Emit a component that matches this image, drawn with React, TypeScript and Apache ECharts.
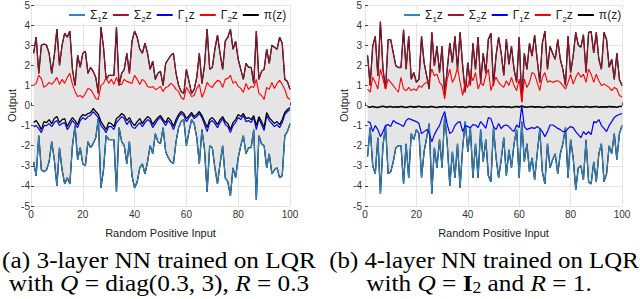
import React, { useEffect, useRef } from "react";
import * as echarts from "echarts";

// ---------- data ----------
const X_IDX = Array.from({ length: 100 }, (_, i) => i + 1);

// (a) 3-layer NN, Q = diag(0.3,3), R = 0.3
const S2A = [2.6,3.4,1.6,3.0,3.05,3.0,2.6,1.6,2.5,3.8, 2.0,3.0,3.6,3.4,3.7,1.8,1.0,2.5,1.9,2.6, 2.7,1.6,1.9,1.7,1.4,0.6,3.9,2.9,1.3,1.5, 1.5,1.5,3.9,1.0,1.6,1.8,2.6,1.6,3.2,3.7, 3.4,2.8,2.6,3.1,2.6,1.8,2.2,1.3,1.6,1.7, 1.0,2.1,2.3,2.5,2.6,1.6,1.0,0.7,0.6,1.8, 1.2,0.6,0.8,1.4,2.6,1.1,2.0,3.8,1.8,1.9, 2.8,3.5,2.6,1.8,3.2,3.4,3.8,2.8,3.2,2.3, 1.8,1.3,2.1,1.9,1.9,1.1,3.7,1.3,1.7,1.8, 2.8,2.1,3.0,2.9,2.8,3.4,3.1,1.3,1.2,0.8];
const S1A = [-2.8,-3.5,-1.5,-3.2,-3.3,-3.2,-2.8,-1.8,-2.7,-4.0, -2.1,-3.2,-3.9,-3.6,-3.9,-2.0,-1.0,-2.7,-2.1,-2.9, -3.0,-1.8,-2.1,-1.9,-1.6,-0.65,-4.1,-3.2,-1.5,-1.7, -1.7,-1.7,-4.3,-1.1,-1.8,-2.0,-2.9,-1.8,-3.5,-4.1, -3.8,-3.1,-2.9,-3.4,-2.8,-2.0,-2.4,-1.4,-1.8,-1.9, -1.1,-2.3,-2.6,-2.8,-2.9,-1.8,-1.1,-0.8,-0.7,-2.0, -1.3,-0.7,-0.9,-1.6,-2.9,-1.2,-2.2,-4.3,-2.0,-2.1, -3.1,-3.9,-2.9,-2.0,-3.6,-3.8,-4.5,-3.1,-3.6,-2.6, -2.0,-1.5,-2.4,-2.1,-2.1,-1.2,-4.7,-1.5,-1.9,-2.0, -3.1,-2.4,-3.4,-3.2,-3.1,-3.6,-3.5,-1.5,-1.3,-0.9];
const G2A = [1.0,1.1,1.5,1.35,0.9,1.0,1.15,1.05,1.2,1.4, 1.05,1.3,1.1,1.4,1.6,1.05,0.7,0.45,0.5,0.4, 0.6,0.85,0.8,0.6,0.35,0.3,1.0,1.1,1.4,1.1, 1.3,1.05,1.4,1.05,1.05,1.3,1.2,1.15,1.1,1.5, 1.3,1.05,1.3,1.2,0.95,0.9,0.95,0.8,0.85,0.95, 0.7,0.9,0.95,1.1,1.0,0.8,0.7,0.4,0.3,0.9, 0.7,0.45,0.5,0.85,1.05,0.4,0.7,1.15,0.97,0.9, 1.1,1.25,1.2,0.9,1.3,1.35,1.5,1.1,1.2,0.95, 0.85,0.65,1.1,0.8,0.95,0.9,1.3,0.6,0.5,0.3, 0.9,0.8,1.15,0.85,1.1,1.25,1.05,0.8,0.4,0.3];
const G1A = [-1.05,-1.0,-1.15,-1.35,-1.0,-1.0,-0.9,-1.05,-0.85,-0.75, -1.0,-0.9,-0.85,-1.2,-1.0,-0.75,-0.9,-1.1,-0.75,-0.6, -0.7,-0.55,-0.5,-0.3,-0.45,-0.6,-1.0,-1.15,-1.35,-1.05, -1.05,-1.2,-0.85,-0.7,-0.55,-0.65,-0.95,-0.75,-1.05,-1.15, -1.0,-0.85,-1.05,-0.85,-0.7,-0.8,-1.1,-0.9,-0.7,-0.6, -0.8,-1.0,-0.75,-0.9,-1.2,-0.85,-0.55,-0.4,-0.5,-0.8, -0.6,-0.45,-0.65,-0.55,-0.4,-0.6,-0.95,-1.3,-0.85,-0.75, -0.9,-1.1,-0.85,-0.65,-0.95,-1.05,-1.35,-1.0,-0.85,-0.6, -0.7,-0.5,-0.8,-0.75,-0.85,-0.6,-1.2,-0.65,-0.95,-1.25, -0.5,-0.75,-0.9,-1.05,-0.95,-1.1,-0.85,-0.45,-0.3,-0.2];
const PA = [-0.85,-0.75,-0.95,-1.2,-0.8,-0.85,-0.7,-0.9,-0.65,-0.55, -0.85,-0.7,-0.65,-1.05,-0.8,-0.6,-0.75,-0.95,-0.6,-0.45, -0.5,-0.4,-0.35,-0.15,-0.3,-0.45,-0.8,-1.0,-1.2,-0.85, -0.9,-1.05,-0.65,-0.55,-0.4,-0.5,-0.75,-0.6,-0.85,-1.0, -0.8,-0.65,-0.9,-0.7,-0.55,-0.65,-0.95,-0.75,-0.6,-0.5, -0.7,-0.85,-0.6,-0.75,-1.05,-0.7,-0.45,-0.3,-0.4,-0.65, -0.5,-0.35,-0.55,-0.45,-0.3,-0.5,-0.8,-1.1,-0.7,-0.6, -0.75,-0.95,-0.7,-0.55,-0.8,-0.9,-1.2,-0.85,-0.7,-0.45, -0.55,-0.4,-0.65,-0.6,-0.7,-0.5,-1.0,-0.55,-0.8,-1.1, -0.35,-0.6,-0.75,-0.9,-0.8,-0.95,-0.7,-0.35,-0.2,-0.1];

// (b) 4-layer NN, Q = I2, R = 1
const S2B = [2.5,1.0,2.95,3.44,1.48,4.17,1.81,0.82,3.28,3.28, 2.62,1.97,1.89,1.89,3.77,1.81,3.44,1.31,1.64,1.15, 1.31,3.44,2.13,1.48,0.82,3.64,1.97,2.95,1.64,2.95, 0.5,1.81,3.11,2.13,3.44,1.81,3.64,1.97,0.66,2.13, 1.0,3.1,1.8,3.4,1.15,2.6,1.6,3.3,3.6,1.0, 2.5,3.4,2.6,1.5,3.3,2.05,2.95,1.8,1.15,3.4, 0.2,2.6,1.8,3.1,2.46,3.5,2.3,1.15,3.1,3.7, 1.8,2.95,2.6,2.3,3.28,2.3,1.8,1.0,3.44,1.64, 2.46,3.64,3.0,2.9,3.52,1.64,3.64,3.68,2.62,3.64, 2.3,1.8,3.64,3.28,1.9,2.3,1.3,2.6,1.3,1.0];
const S1B = [-2.55,-1.1,-3.0,-3.4,-1.6,-4.4,-2.0,-1.0,-3.4,-3.3, -2.8,-2.1,-2.0,-2.0,-3.9,-1.9,-3.6,-1.4,-1.7,-1.2, -1.4,-3.6,-2.3,-1.6,-0.9,-4.4,-2.1,-3.1,-1.7,-3.1, -0.5,-1.9,-4.0,-2.3,-3.6,-1.9,-4.1,-2.1,-0.8,-2.3, -1.1,-3.6,-1.9,-3.6,-1.2,-2.8,-1.7,-3.5,-3.8,-1.1, -2.6,-3.6,-2.7,-1.6,-3.5,-2.2,-3.1,-1.9,-1.2,-3.6, -0.8,-2.8,-1.9,-3.3,-2.6,-3.7,-2.4,-1.2,-3.3,-3.9, -1.9,-3.1,-2.7,-2.4,-3.4,-2.4,-1.9,-1.1,-3.6,-1.7, -2.6,-4.2,-3.1,-3.0,-3.7,-1.7,-3.8,-3.9,-2.8,-3.8, -2.4,-1.9,-3.8,-3.4,-2.0,-2.4,-1.4,-2.7,-1.4,-1.0];
const G2B = [0.82,0.66,1.4,1.15,0.82,1.81,1.31,0.82,1.31,1.15, 0.99,0.82,0.66,1.4,0.82,0.74,0.9,0.74,0.82,0.74, 0.99,0.9,1.07,1.15,1.3,1.81,1.48,1.56,1.15,0.99, 0.33,1.31,1.81,1.15,1.4,1.89,1.15,0.5,1.15,0.9, 1.56,1.23,1.64,0.82,1.15,0.99,1.48,1.81,0.74,1.15, 1.4,1.15,1.0,0.9,1.23,0.99,1.4,0.99,0.74,1.31, 0.17,1.31,0.9,1.15,1.64,1.56,1.15,0.74,1.4,1.64, 1.15,1.23,1.15,1.2,1.23,1.15,0.99,0.82,1.15,1.56, 1.07,1.4,1.64,1.4,1.56,1.15,1.81,1.56,1.15,1.56, 1.23,0.99,1.07,0.99,0.9,0.74,0.9,0.82,0.5,0.42];
const G1B = [-0.8,-0.85,-1.3,-1.0,-1.2,-1.55,-1.3,-1.0,-0.95,-1.05, -0.75,-0.85,-0.9,-0.97,-1.05,-0.75,-0.65,-0.7,-0.75,-0.8, -0.9,-1.4,-1.3,-1.2,-1.4,-1.8,-1.45,-1.2,-1.0,-0.6, -0.3,-0.95,-1.4,-1.3,-1.0,-0.85,-0.8,-1.3,-1.0,-1.05, -1.1,-0.95,-0.97,-1.1,-0.8,-0.95,-1.14,-0.6,-0.65,-1.05, -1.2,-0.9,-1.15,-1.0,-0.97,-1.05,-1.2,-1.3,-0.97,-1.1, 0.0,-1.05,-1.2,-1.14,-1.1,-1.14,-1.05,-1.14,-1.3,-1.55, -1.3,-0.97,-0.97,-1.05,-1.14,-1.2,-1.3,-1.3,-1.14,-1.05, -1.1,-1.3,-1.45,-1.6,-1.3,-1.45,-1.3,-1.45,-0.8,-0.85, -0.7,-1.0,-1.14,-1.3,-1.0,-0.8,-0.6,-0.5,-0.45,-0.4];
const PB = [-0.06,-0.09,-0.05,-0.08,-0.1,-0.06,-0.04,-0.08,-0.07,-0.05, -0.09,-0.06,-0.08,-0.05,-0.07,-0.1,-0.06,-0.05,-0.08,-0.07, -0.04,-0.08,-0.06,-0.09,-0.07,-0.05,-0.08,-0.1,-0.06,-0.07, -0.05,-0.08,-0.06,-0.09,-0.05,-0.07,-0.08,-0.06,-0.1,-0.07, -0.05,-0.08,-0.06,-0.07,-0.09,-0.05,-0.06,-0.08,-0.07,-0.05, -0.09,-0.06,-0.07,-0.05,-0.08,-0.06,-0.1,-0.07,-0.05,-0.08, -0.02,-0.07,-0.09,-0.06,-0.05,-0.08,-0.07,-0.06,-0.1,-0.08, -0.05,-0.07,-0.06,-0.09,-0.05,-0.08,-0.06,-0.07,-0.1,-0.06, -0.05,-0.08,-0.07,-0.06,-0.09,-0.05,-0.07,-0.08,-0.06,-0.05, -0.09,-0.07,-0.06,-0.08,-0.05,-0.07,-0.06,-0.09,-0.05,-0.04];

const X_TICKS = [0, 20, 40, 60, 80, 100];
const Y_TICKS = [-5, -4, -3, -2, -1, 0, 1, 2, 3, 4, 5];
const LEGEND_NAMES = ["Σ1z", "Σ2z", "Γ1z", "Γ2z", "π(z)"];
const X_LABEL = "Random Positive Input";
const Y_LABEL = "Output";

const SANS = "'Liberation Sans', Arial, Helvetica, sans-serif";
const SERIF = "'Liberation Serif', 'Times New Roman', serif";

const C_S1 = "#2c86c9";
const C_S2 = "#a2142f";
const C_G1 = "#0000ff";
const C_G2 = "#ff0000";
const C_PI = "#000000";
const C_FILL = "#e5e5e5";

const pairs = (ys: number[]) => ys.map((v, i) => [X_IDX[i], v]);

function panelSeries(g: number, s1: number[], s2: number[], g1: number[], g2: number[], p: number[], piWidth: number) {
  const common = { type: "line", xAxisIndex: g, yAxisIndex: g, symbol: "none", showSymbol: false, silent: true };
  return [
    { ...common, name: "_hi" + g, data: pairs(s2), lineStyle: { color: "#000", width: 1.3 }, areaStyle: { color: C_FILL, opacity: 1, origin: 0 }, z: 1 },
    { ...common, name: "_lo" + g, data: pairs(s1), lineStyle: { color: "#000", width: 1.3 }, areaStyle: { color: C_FILL, opacity: 1, origin: 0 }, z: 1 },
    { ...common, name: "Σ2z", data: pairs(s2), color: C_S2, lineStyle: { color: C_S2, width: 1 }, z: 2 },
    { ...common, name: "Σ1z", data: pairs(s1), color: C_S1, lineStyle: { color: C_S1, width: 1.1 }, z: 2 },
    { ...common, name: "Γ2z", data: pairs(g2), color: C_G2, lineStyle: { color: C_G2, width: 1.1 }, z: 3 },
    { ...common, name: "Γ1z", data: pairs(g1), color: C_G1, lineStyle: { color: C_G1, width: 1.2 }, z: 3 },
    { ...common, name: "π(z)", data: pairs(p), color: C_PI, lineStyle: { color: C_PI, width: piWidth }, z: 4 },
  ];
}

function legendFmt(name: string) {
  if (name === "Σ1z") return "{n|Σ}{s|1}{n|z}";
  if (name === "Σ2z") return "{n|Σ}{s|2}{n|z}";
  if (name === "Γ1z") return "{n|Γ}{s|1}{n|z}";
  if (name === "Γ2z") return "{n|Γ}{s|2}{n|z}";
  return "{n|π(z)}";
}

function makeLegend(left: number) {
  return {
    left, top: 9, width: 240, orient: "horizontal", padding: [0, 2], itemWidth: 16, itemHeight: 2, itemGap: 5, icon: "rect",
    backgroundColor: "#fff", selectedMode: false, data: LEGEND_NAMES, formatter: legendFmt,
    textStyle: {
      fontFamily: SANS, fontSize: 12, color: "#222",
      rich: {
        n: { fontFamily: SANS, fontSize: 12, color: "#222", lineHeight: 16 },
        s: { fontFamily: SANS, fontSize: 8, color: "#222", verticalAlign: "bottom" },
      },
    },
  };
}

function axesFor(g: number, labelMargin: number) {
  const x = {
    type: "value", gridIndex: g, min: X_TICKS[0], max: X_TICKS[X_TICKS.length - 1], interval: 20,
    name: X_LABEL, nameLocation: "middle", nameGap: 21,
    nameTextStyle: { fontFamily: SANS, fontSize: 11, color: "#222" },
    axisLine: { show: false }, axisTick: { show: true, inside: true, length: 3, lineStyle: { color: "#444" } },
    axisLabel: { fontFamily: SANS, fontSize: 10, color: "#333", margin: 3 },
    splitLine: { show: true, lineStyle: { color: "#e4e4e4", width: 1 } },
  };
  const y = {
    type: "value", gridIndex: g, min: Y_TICKS[0], max: Y_TICKS[Y_TICKS.length - 1], interval: 1,
    name: Y_LABEL, nameLocation: "middle", nameGap: 14,
    nameTextStyle: { fontFamily: SANS, fontSize: 11, color: "#222" },
    axisLine: { show: false }, axisTick: { show: true, inside: true, length: 3, lineStyle: { color: "#444" } },
    axisLabel: { fontFamily: SANS, fontSize: 10, color: "#333", margin: labelMargin },
    splitLine: { show: true, lineStyle: { color: "#e4e4e4", width: 1 } },
  };
  return { x, y };
}

const CAP_A1 = "(a) 3-layer NN trained on LQR";
const CAP_A2 = "with {i|Q} = diag(0.3, 3), {i|R} = 0.3";
const CAP_B1 = "(b) 4-layer NN trained on LQR";
const CAP_B2 = "with {i|Q} = {b|I}{s|2} and {i|R} = 1.";

function caption(text: string, x: number, y: number, sx: number) {
  return {
    type: "text", x, y, scaleX: sx, scaleY: 1, silent: true,
    style: {
      text, fill: "#000", fontFamily: SERIF, fontSize: 23, align: "center", verticalAlign: "middle",
      rich: {
        i: { fontFamily: SERIF, fontSize: 23, fontStyle: "italic", fill: "#000", lineHeight: 26 },
        b: { fontFamily: SERIF, fontSize: 23, fontWeight: "bold", fill: "#000", lineHeight: 26 },
        s: { fontFamily: SERIF, fontSize: 16, fill: "#000", verticalAlign: "bottom" },
      },
    },
  };
}

export default function App() {
  const ref = useRef<HTMLDivElement>(null);
  useEffect(() => {
    if (!ref.current) return;
    const chart = echarts.init(ref.current, undefined, { renderer: "svg" });
    const a = axesFor(0, 1);
    const b = axesFor(1, 3);
    chart.setOption({
      animation: false,
      backgroundColor: "#fff",
      grid: [
        { left: 31, top: 2, width: 259, height: 204 },
        { left: 365, top: 2, width: 257, height: 204 },
      ],
      xAxis: [a.x, b.x],
      yAxis: [a.y, b.y],
      legend: [makeLegend(67), makeLegend(402)],
      series: [
        ...panelSeries(0, S1A, S2A, G1A, G2A, PA, 1.3),
        ...panelSeries(1, S1B, S2B, G1B, G2B, PB, 1.6),
      ],
      graphic: [
        caption(CAP_A1, 159, 260, 1.1),
        caption(CAP_A2, 159, 283, 1.1),
        caption(CAP_B1, 484, 260, 1.08),
        caption(CAP_B2, 479, 283, 1.1),
      ],
    });
    return () => chart.dispose();
  }, []);
  return (
    <div
      ref={ref}
      style={{ position: "absolute", left: 0, top: 0, width: 640, height: 299, background: "#fff" }}
    />
  );
}
